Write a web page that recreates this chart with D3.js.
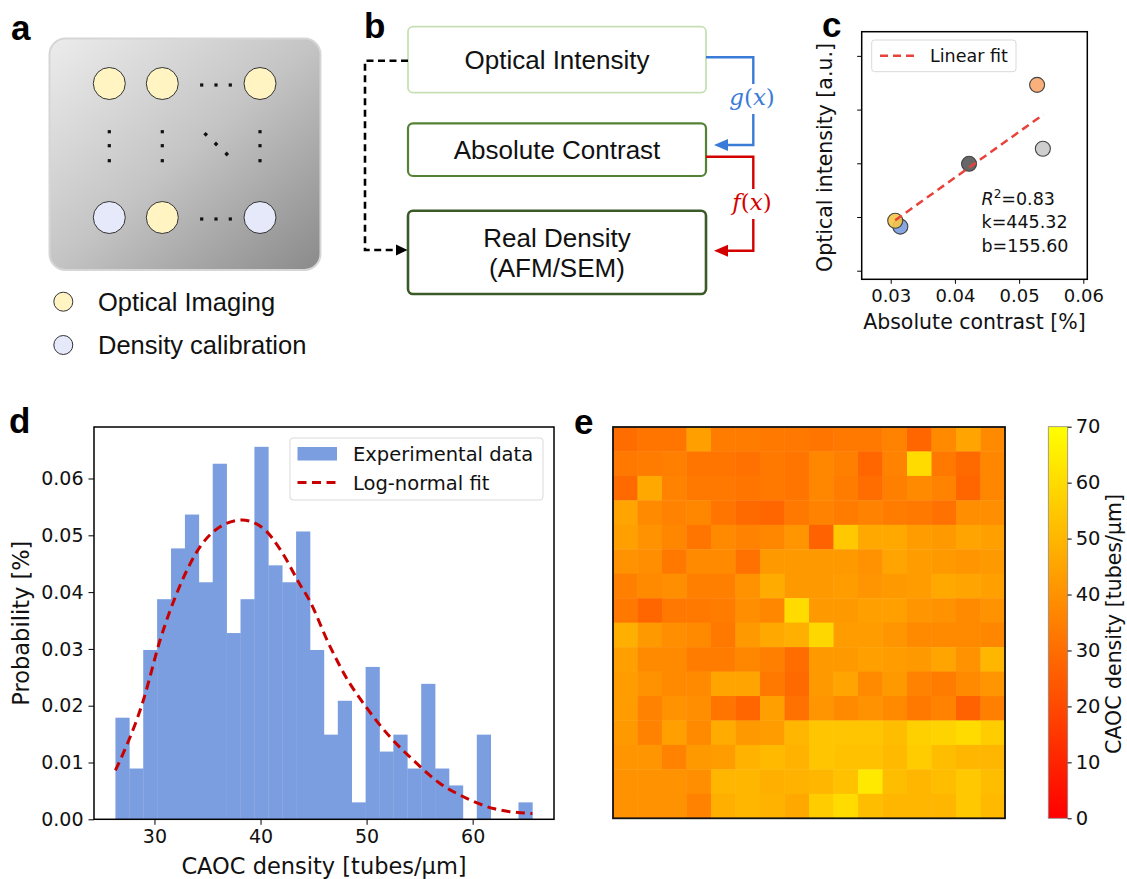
<!DOCTYPE html>
<html><head><meta charset="utf-8">
<script src="https://cdn.jsdelivr.net/npm/d3@7"></script>
<style>body{margin:0;background:#fff} svg{display:block}</style>
</head><body>
<svg id="fig" width="1127" height="879" xmlns="http://www.w3.org/2000/svg"></svg>
<script>
// ================= DATA =================
const panelLetters = ["a", "b", "c", "d", "e"];

// panel a : chip layout
const chipColumns = ["c1", "c2", "c3"];
const chipTopRow = ["optical", "optical", "optical"];
const chipBottomRow = ["calibration", "optical", "calibration"];
const legendItemsA = [
  {key: "optical", label: "Optical Imaging"},
  {key: "calibration", label: "Density calibration"}
];

// panel b : flow chart
const flowLabels = [["Optical Intensity"], ["Absolute Contrast"], ["Real Density", "(AFM/SEM)"]];
const flowFunctions = ["g", "f"];

// panel c : calibration scatter
const scatterKeys = ["orange", "lightgray", "darkgray", "blue", "yellow"];
const scatterX = [0.0528, 0.0537, 0.0422, 0.0315, 0.0307];
const scatterY = [3.46, 2.27, 1.99, 0.82, 0.93];
const fitLineX = [0.0307, 0.0538];
const fitLineY = [0.94, 2.91];
const scatterXTicks = [0.03, 0.04, 0.05, 0.06];
const scatterYTicks = [0, 1, 2, 3, 4];
const fitStats = {r2: "0.83", k: "445.32", b: "155.60"};

// panel d : histogram
const histBinStart = 26.32;
const histBinWidth = 1.3104;
const histCounts = [6, 3, 10, 13, 16, 18, 14, 21, 11, 13, 22, 15, 14, 17, 10, 5, 7, 1, 9, 4, 5, 3, 8, 3, 2, 0, 5, 0, 0, 1];
const histSampleSize = 256;
const lognormX = [26.32, 28.96, 30.54, 32.42, 34.31, 36.19, 38.24, 40.27, 42.0, 43.73, 44.51, 46.56, 48.13, 50.02, 52.21, 54.41, 56.93, 59.44, 61.95, 65.63];
const lognormY = [0.0086, 0.0210, 0.0316, 0.0412, 0.0480, 0.0515, 0.0527, 0.0512, 0.0471, 0.0413, 0.0389, 0.0304, 0.0248, 0.0196, 0.0145, 0.0104, 0.0063, 0.0037, 0.0019, 0.0010];
const histXTicks = [30, 40, 50, 60];
const histYTicks = [0, 0.01, 0.02, 0.03, 0.04, 0.05, 0.06];

// panel e : density map (tubes/um), row 0 = top
const densityGrid = [
  [30, 32, 32, 44, 34, 34, 33, 33, 32, 33, 33, 36, 28, 38, 45, 38],
  [33, 34, 35, 32, 32, 31, 33, 32, 37, 35, 28, 36, 60, 33, 29, 37],
  [29, 46, 36, 33, 33, 32, 33, 32, 37, 34, 30, 35, 38, 36, 28, 37],
  [45, 38, 36, 37, 32, 29, 28, 33, 36, 34, 36, 34, 33, 31, 39, 39],
  [44, 40, 37, 32, 38, 36, 37, 41, 27, 55, 46, 46, 43, 42, 45, 44],
  [40, 39, 33, 38, 38, 31, 42, 42, 42, 42, 40, 45, 43, 42, 41, 42],
  [35, 38, 39, 35, 35, 40, 47, 42, 42, 43, 41, 42, 43, 46, 45, 44],
  [33, 28, 33, 33, 34, 39, 37, 60, 42, 42, 44, 44, 41, 40, 38, 40],
  [48, 42, 39, 38, 33, 42, 46, 48, 59, 43, 43, 41, 38, 38, 38, 37],
  [44, 38, 38, 34, 34, 37, 35, 30, 42, 42, 44, 43, 42, 45, 40, 50],
  [43, 40, 38, 38, 45, 45, 33, 29, 42, 45, 38, 42, 36, 34, 38, 41],
  [43, 36, 40, 39, 32, 28, 44, 31, 41, 38, 40, 38, 33, 36, 27, 35],
  [42, 36, 44, 38, 47, 42, 43, 50, 54, 54, 54, 52, 57, 58, 60, 56],
  [41, 41, 36, 42, 43, 49, 51, 49, 54, 53, 53, 51, 56, 52, 50, 50],
  [40, 40, 40, 39, 50, 50, 48, 49, 50, 53, 64, 52, 50, 52, 55, 52],
  [40, 40, 40, 36, 48, 50, 49, 46, 56, 60, 52, 50, 50, 50, 55, 51]
];
const colorbarDomain = [0, 70];
const colorbarTicks = [0, 10, 20, 30, 40, 50, 60, 70];

// ================= STYLE =================
const ARIAL = "'Liberation Sans', Arial, sans-serif";
const MPL = "'DejaVu Sans', sans-serif";
const chipFill = {optical: "#fff4c2", calibration: "#e5e9fa"};
const scatterFill = {orange: "#f9a76c", lightgray: "#c9c9c9", darkgray: "#575757", blue: "#7a9de0", yellow: "#f6c744"};

const svg = d3.select("#fig");
const defs = svg.append("defs");

// ================= PANEL LETTERS =================
const letterPos = {a: [11, 40], b: [364, 38], c: [822, 37], d: [9, 433], e: [574, 434]};
svg.append("g").selectAll("text").data(panelLetters).join("text")
  .attr("x", d => letterPos[d][0]).attr("y", d => letterPos[d][1])
  .attr("font-family", ARIAL).attr("font-weight", "bold").attr("font-size", 35)
  .attr("fill", "#000").text(d => d);

// ================= PANEL A =================
(function () {
  const g = svg.append("g");
  const grad = defs.append("linearGradient").attr("id", "chipGrad")
    .attr("x1", "0").attr("y1", "0").attr("x2", "1").attr("y2", "1");
  grad.append("stop").attr("offset", "0").attr("stop-color", "#ececec");
  grad.append("stop").attr("offset", "0.5").attr("stop-color", "#c4c4c4");
  grad.append("stop").attr("offset", "1").attr("stop-color", "#8a8a8a");
  g.append("rect").attr("x", 49.5).attr("y", 38.5).attr("width", 271).attr("height", 231.5)
    .attr("rx", 16).attr("fill", "url(#chipGrad)").attr("stroke", "#d6d6d6").attr("stroke-width", 2);

  const cx = d3.scaleOrdinal().domain(chipColumns).range([109.3, 162.3, 260]);
  const rowY = d3.scaleOrdinal().domain(["top", "mid", "bottom"]).range([83.5, 146, 217.5]);
  const rows = [{row: "top", items: chipTopRow}, {row: "bottom", items: chipBottomRow}];
  rows.forEach(r => {
    g.selectAll(null).data(r.items).join("circle")
      .attr("cx", (d, i) => cx(chipColumns[i])).attr("cy", rowY(r.row)).attr("r", 16)
      .attr("fill", d => chipFill[d]).attr("stroke", "#333").attr("stroke-width", 1);
    // horizontal ellipsis
    [201.7, 216, 230.3].forEach(x => g.append("rect").attr("x", x - 1.6).attr("y", rowY(r.row) + 1.5 - 1.6)
      .attr("width", 3.2).attr("height", 3.2).attr("fill", "#111"));
  });
  // vertical ellipsis
  chipColumns.forEach(c => {
    [131.7, 145.7, 160.7].forEach(y => g.append("rect").attr("x", cx(c) - 1.6).attr("y", y - 1.6)
      .attr("width", 3.2).attr("height", 3.2).attr("fill", "#111"));
  });
  // diagonal ellipsis
  [[205.7, 134.3], [216, 144], [226.7, 154]].forEach(p => g.append("rect")
    .attr("x", -1.7).attr("y", -1.7).attr("width", 3.4).attr("height", 3.4)
    .attr("transform", `translate(${p[0]},${p[1]}) rotate(45)`).attr("fill", "#111"));

  // legend
  const ly = d3.scalePoint().domain(legendItemsA.map(d => d.key)).range([301.7, 345]);
  const lg = g.selectAll("g.leg").data(legendItemsA).join("g").attr("class", "leg")
    .attr("transform", d => `translate(0,${ly(d.key)})`);
  lg.append("circle").attr("cx", 63.3).attr("cy", 0).attr("r", 9.5)
    .attr("fill", d => chipFill[d.key]).attr("stroke", "#333").attr("stroke-width", 1);
  lg.append("text").attr("x", 98).attr("y", 0).attr("dy", "0.36em")
    .attr("font-family", ARIAL).attr("font-size", 25.5).attr("fill", "#111").text(d => d.label);
})();

// ================= PANEL B =================
(function () {
  const g = svg.append("g");
  const boxes = [
    {y: 26.7, h: 66, stroke: "#c6e0b4", sw: 1.8},
    {y: 123.3, h: 52.7, stroke: "#548235", sw: 2.2},
    {y: 210.7, h: 83.3, stroke: "#3a5a26", sw: 2.6}
  ];
  const bx = 408, bw = 298;
  boxes.forEach((b, i) => {
    g.append("rect").attr("x", bx).attr("y", b.y).attr("width", bw).attr("height", b.h).attr("rx", 5)
      .attr("fill", "#fff").attr("stroke", b.stroke).attr("stroke-width", b.sw);
    const lines = flowLabels[i];
    const cy = b.y + b.h / 2;
    lines.forEach((t, j) => {
      g.append("text").attr("x", bx + bw / 2).attr("y", cy + (j - (lines.length - 1) / 2) * 30)
        .attr("dy", "0.36em").attr("text-anchor", "middle")
        .attr("font-family", ARIAL).attr("font-size", 26).attr("fill", "#111").text(t);
    });
  });
  // dashed black connector
  g.append("path").attr("d", "M408,60.7 H365 V250 H398").attr("fill", "none")
    .attr("stroke", "#000").attr("stroke-width", 2.6).attr("stroke-dasharray", "7,4.5");
  g.append("path").attr("d", "M407.5,250 L396,244.5 L396,255.5 Z").attr("fill", "#000");

  const conn = [
    {y0: 57.3, y1: 145, color: "#3b7bd8", ly: 98, fn: flowFunctions[0]},
    {y0: 156.7, y1: 250.7, color: "#d40000", ly: 203, fn: flowFunctions[1]}
  ];
  conn.forEach(c => {
    g.append("path").attr("d", `M706,${c.y0} H753.3 V${c.y1} H726`).attr("fill", "none")
      .attr("stroke", c.color).attr("stroke-width", 2.4);
    g.append("path").attr("d", `M714,${c.y1} L728,${c.y1 - 6} L728,${c.y1 + 6} Z`).attr("fill", c.color);
    g.append("rect").attr("x", 727).attr("y", c.ly - 14).attr("width", 52).attr("height", 30).attr("fill", "#fff");
    const t = g.append("text").attr("x", 752).attr("y", c.ly).attr("dy", "0.32em").attr("text-anchor", "middle")
      .attr("font-family", "'DejaVu Serif', 'Liberation Serif', serif").attr("font-size", 23).attr("fill", c.color);
    t.append("tspan").attr("font-style", "italic").text(c.fn);
    t.append("tspan").text("(");
    t.append("tspan").attr("font-style", "italic").text("x");
    t.append("tspan").text(")");
  });
})();

// ================= PANEL C =================
(function () {
  const g = svg.append("g");
  const L = 861.7, R = 1087.3, T = 31.7, B = 279.3;
  const x = d3.scaleLinear().domain([0.02548, 0.06062]).range([L, R]);
  const y = d3.scaleLinear().domain([-0.16, 4.45]).range([B, T]);

  const pts = scatterKeys.map((k, i) => ({k, x: scatterX[i], y: scatterY[i]}));
  g.selectAll("circle.pt").data(pts).join("circle").attr("class", "pt")
    .attr("cx", d => x(d.x)).attr("cy", d => y(d.y)).attr("r", 7.5)
    .attr("fill", d => scatterFill[d.k]).attr("fill-opacity", 0.9)
    .attr("stroke", "#444").attr("stroke-width", 1.1);

  const line = d3.line().x(d => x(d[0])).y(d => y(d[1]));
  g.append("path").attr("d", line(d3.zip(fitLineX, fitLineY))).attr("fill", "none")
    .attr("stroke", "#e8423a").attr("stroke-width", 2.5).attr("stroke-dasharray", "8,5");

  g.append("rect").attr("x", L).attr("y", T).attr("width", R - L).attr("height", B - T)
    .attr("fill", "none").attr("stroke", "#000").attr("stroke-width", 1.5);

  const xa = g.append("g").attr("transform", `translate(0,${B})`)
    .call(d3.axisBottom(x).tickValues(scatterXTicks).tickFormat(d3.format(".2f")).tickSize(4.5).tickPadding(5));
  const ya = g.append("g").attr("transform", `translate(${L},0)`)
    .call(d3.axisLeft(y).tickValues(scatterYTicks).tickFormat("").tickSize(4.5));
  [xa, ya].forEach(a => { a.select(".domain").remove(); a.selectAll("line").attr("stroke", "#000").attr("stroke-width", 1);
    a.selectAll("text").attr("font-family", MPL).attr("font-size", 18).attr("fill", "#111"); });

  g.append("text").attr("x", (L + R) / 2).attr("y", 321.7).attr("dy", "0.36em").attr("text-anchor", "middle")
    .attr("font-family", MPL).attr("font-size", 20.5).attr("fill", "#111").text("Absolute contrast [%]");
  g.append("text").attr("transform", `translate(825,${(T + B) / 2 + 2}) rotate(-90)`).attr("dy", "0.36em")
    .attr("text-anchor", "middle").attr("font-family", MPL).attr("font-size", 20.5).attr("fill", "#111")
    .text("Optical intensity [a.u.]");

  // legend
  g.append("rect").attr("x", 871.7).attr("y", 40).attr("width", 144.3).attr("height", 31.7).attr("rx", 3)
    .attr("fill", "#fff").attr("fill-opacity", 0.8).attr("stroke", "#d9d9d9").attr("stroke-width", 1);
  g.append("line").attr("x1", 880).attr("x2", 915).attr("y1", 55.8).attr("y2", 55.8)
    .attr("stroke", "#e8423a").attr("stroke-width", 2.5).attr("stroke-dasharray", "8,5");
  g.append("text").attr("x", 930).attr("y", 55.8).attr("dy", "0.36em").attr("font-family", MPL)
    .attr("font-size", 17.5).attr("fill", "#111").text("Linear fit");

  // stats
  const st = g.append("g").attr("font-family", MPL).attr("font-size", 17.5).attr("fill", "#111");
  const t1 = st.append("text").attr("x", 981.5).attr("y", 204.5);
  t1.append("tspan").attr("font-style", "italic").text("R");
  t1.append("tspan").attr("font-size", 12).attr("dy", -7).text("2");
  t1.append("tspan").attr("dy", 7).text("=" + fitStats.r2);
  st.append("text").attr("x", 981.5).attr("y", 228).text("k=" + fitStats.k);
  st.append("text").attr("x", 981.5).attr("y", 251.5).text("b=" + fitStats.b);
})();

// ================= PANEL D =================
(function () {
  const g = svg.append("g");
  const L = 94, R = 554, T = 427, B = 819.3;
  const x = d3.scaleLinear().domain([24.3, 67.67]).range([L, R]);
  const y = d3.scaleLinear().domain([0, 0.06907]).range([B, T]);
  const bins = histCounts.map((c, i) => ({
    x0: histBinStart + i * histBinWidth,
    x1: histBinStart + (i + 1) * histBinWidth,
    p: c / (histSampleSize * histBinWidth)
  }));
  g.selectAll("rect.bar").data(bins).join("rect").attr("class", "bar")
    .attr("x", d => x(d.x0)).attr("width", d => x(d.x1) - x(d.x0) + 0.3)
    .attr("y", d => y(d.p)).attr("height", d => y(0) - y(d.p))
    .attr("fill", "#7b9ee0");

  const line = d3.line().x(d => x(d[0])).y(d => y(d[1])).curve(d3.curveMonotoneX);
  g.append("path").attr("d", line(d3.zip(lognormX, lognormY))).attr("fill", "none")
    .attr("stroke", "#c80000").attr("stroke-width", 3).attr("stroke-dasharray", "9,5.5");

  g.append("rect").attr("x", L).attr("y", T).attr("width", R - L).attr("height", B - T)
    .attr("fill", "none").attr("stroke", "#000").attr("stroke-width", 1.5);

  const xa = g.append("g").attr("transform", `translate(0,${B})`)
    .call(d3.axisBottom(x).tickValues(histXTicks).tickFormat(d3.format("d")).tickSize(5.5).tickPadding(5));
  const ya = g.append("g").attr("transform", `translate(${L},0)`)
    .call(d3.axisLeft(y).tickValues(histYTicks).tickFormat(d3.format(".2f")).tickSize(5.5).tickPadding(5));
  [xa, ya].forEach(a => { a.select(".domain").remove(); a.selectAll("line").attr("stroke", "#000").attr("stroke-width", 1);
    a.selectAll("text").attr("font-family", MPL).attr("font-size", 19).attr("fill", "#111"); });

  g.append("text").attr("x", (L + R) / 2).attr("y", 866).attr("dy", "0.36em").attr("text-anchor", "middle")
    .attr("font-family", MPL).attr("font-size", 22.5).attr("fill", "#111").text("CAOC density [tubes/μm]");
  g.append("text").attr("transform", `translate(21,${(T + B) / 2}) rotate(-90)`).attr("dy", "0.36em")
    .attr("text-anchor", "middle").attr("font-family", MPL).attr("font-size", 22.5).attr("fill", "#111")
    .text("Probability [%]");

  // legend
  g.append("rect").attr("x", 290).attr("y", 438).attr("width", 253).attr("height", 62).attr("rx", 3)
    .attr("fill", "#fff").attr("fill-opacity", 0.8).attr("stroke", "#d9d9d9").attr("stroke-width", 1);
  g.append("rect").attr("x", 297.5).attr("y", 447).attr("width", 39.5).attr("height", 13.5).attr("fill", "#7b9ee0");
  g.append("line").attr("x1", 297.5).attr("x2", 337).attr("y1", 482.5).attr("y2", 482.5)
    .attr("stroke", "#c80000").attr("stroke-width", 3).attr("stroke-dasharray", "9,5.5");
  g.append("text").attr("x", 353).attr("y", 453.5).attr("dy", "0.36em").attr("font-family", MPL)
    .attr("font-size", 19.5).attr("fill", "#111").text("Experimental data");
  g.append("text").attr("x", 353).attr("y", 482.5).attr("dy", "0.36em").attr("font-family", MPL)
    .attr("font-size", 19.5).attr("fill", "#111").text("Log-normal fit");
})();

// ================= PANEL E =================
(function () {
  const g = svg.append("g");
  const L = 613, R = 1005, T = 427, B = 818.3;
  const n = densityGrid.length;
  const xb = d3.scaleBand().domain(d3.range(densityGrid[0].length)).range([L, R]);
  const yb = d3.scaleBand().domain(d3.range(n)).range([T, B]);
  const color = d3.scaleSequential(d3.interpolateRgb("#ff0000", "#ffff00")).domain(colorbarDomain);
  const cells = densityGrid.flatMap((row, r) => row.map((v, c) => ({r, c, v})));
  g.selectAll("rect.cell").data(cells).join("rect").attr("class", "cell")
    .attr("x", d => xb(d.c)).attr("y", d => yb(d.r))
    .attr("width", xb.bandwidth() + 0.4).attr("height", yb.bandwidth() + 0.4)
    .attr("fill", d => color(d.v));
  g.append("rect").attr("x", L).attr("y", T).attr("width", R - L).attr("height", B - T)
    .attr("fill", "none").attr("stroke", "#111").attr("stroke-width", 1.8);

  // colorbar
  const cbx = 1048.3, cbw = 19.4, cbT = 426.7, cbB = 818.3;
  const grad = defs.append("linearGradient").attr("id", "cbGrad")
    .attr("x1", "0").attr("y1", "1").attr("x2", "0").attr("y2", "0");
  d3.range(0, 1.0001, 0.1).forEach(t => grad.append("stop").attr("offset", t)
    .attr("stop-color", color(colorbarDomain[0] + t * (colorbarDomain[1] - colorbarDomain[0]))));
  g.append("rect").attr("x", cbx).attr("y", cbT).attr("width", cbw).attr("height", cbB - cbT)
    .attr("fill", "url(#cbGrad)").attr("stroke", "#8a8a8a").attr("stroke-width", 0.8);
  const cy = d3.scaleLinear().domain(colorbarDomain).range([cbB, cbT]);
  const ca = g.append("g").attr("transform", `translate(${cbx + cbw},0)`)
    .call(d3.axisRight(cy).tickValues(colorbarTicks).tickFormat(d3.format("d")).tickSize(4).tickPadding(4));
  ca.select(".domain").remove();
  ca.selectAll("line").attr("stroke", "#000").attr("stroke-width", 1);
  ca.selectAll("text").attr("font-family", MPL).attr("font-size", 19.5).attr("fill", "#111");
  g.append("text").attr("transform", `translate(1114,624) rotate(-90)`).attr("dy", "0.36em")
    .attr("text-anchor", "middle").attr("font-family", MPL).attr("font-size", 20.5).attr("fill", "#111")
    .text("CAOC density [tubes/μm]");
})();
</script>
</body></html>
